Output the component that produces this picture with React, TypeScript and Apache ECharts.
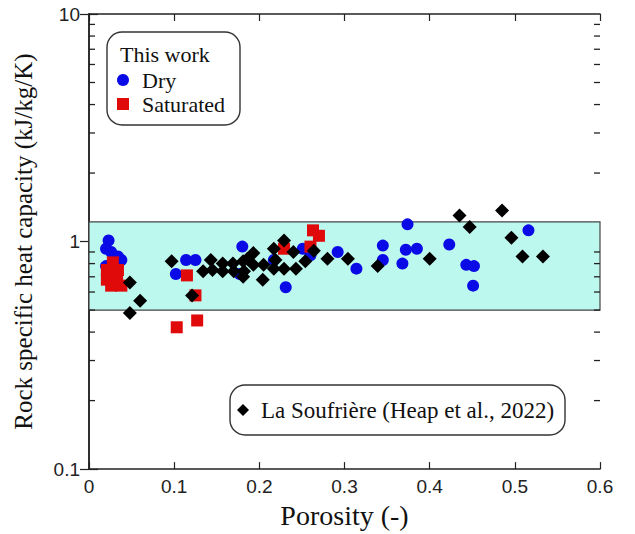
import React, { useEffect, useRef } from "react";
import * as echarts from "echarts";

// ---- Data ----
const dryPorosity = [0.023, 0.020, 0.026, 0.034, 0.038, 0.020, 0.114, 0.125, 0.102, 0.177, 0.180, 0.231, 0.217, 0.251, 0.260, 0.292, 0.314, 0.345, 0.345, 0.374, 0.372, 0.385, 0.368, 0.423, 0.443, 0.452, 0.451, 0.516];
const dryCp = [1.01, 0.93, 0.90, 0.86, 0.83, 0.78, 0.83, 0.83, 0.72, 0.72, 0.95, 0.63, 0.83, 0.93, 0.87, 0.90, 0.76, 0.96, 0.83, 1.19, 0.92, 0.93, 0.80, 0.97, 0.79, 0.78, 0.64, 1.12];

const satPorosity = [0.028, 0.021, 0.034, 0.021, 0.033, 0.026, 0.038, 0.115, 0.125, 0.103, 0.127, 0.229, 0.263, 0.270, 0.260];
const satCp = [0.81, 0.75, 0.75, 0.68, 0.67, 0.64, 0.64, 0.71, 0.58, 0.42, 0.45, 0.93, 1.12, 1.06, 0.95];

const soufrierePorosity = [0.048, 0.060, 0.048, 0.097, 0.121, 0.134, 0.143, 0.145, 0.157, 0.157, 0.169, 0.170, 0.181, 0.182, 0.186, 0.181, 0.193, 0.193, 0.205, 0.204, 0.217, 0.219, 0.217, 0.229, 0.229, 0.240, 0.243, 0.254, 0.264, 0.280, 0.304, 0.339, 0.400, 0.435, 0.447, 0.485, 0.496, 0.509, 0.533];
const soufriereCp = [0.66, 0.55, 0.485, 0.82, 0.58, 0.74, 0.83, 0.75, 0.80, 0.74, 0.80, 0.74, 0.82, 0.74, 0.84, 0.70, 0.89, 0.79, 0.79, 0.68, 0.93, 0.83, 0.76, 1.01, 0.76, 0.90, 0.76, 0.82, 0.91, 0.84, 0.84, 0.78, 0.84, 1.30, 1.16, 1.37, 1.04, 0.86, 0.86];

const bandRange = [0.5, 1.22];
const xTicks = [0, 0.1, 0.2, 0.3, 0.4, 0.5, 0.6];
const yMinorTicks = [0.2, 0.3, 0.4, 0.5, 0.6, 0.7, 0.8, 0.9, 2, 3, 4, 5, 6, 7, 8, 9];

const SERIF = "'Liberation Serif', 'Times New Roman', serif";
const SANS = "'Liberation Sans', Arial, sans-serif";

const zip = (a: number[], b: number[]) => a.map((v, i) => [v, b[i]]);

export default function App() {
  const ref = useRef<HTMLDivElement>(null);
  useEffect(() => {
    if (!ref.current) return;
    const chart = echarts.init(ref.current, null, { renderer: "svg" });
    const axisColor = "#222";
    const xMin = xTicks[0];
    const xMax = xTicks[xTicks.length - 1];
    const option: any = {
      animation: false,
      backgroundColor: "#fff",
      grid: { left: 89, right: 35, top: 14, bottom: 55 },
      xAxis: [
        {
          type: "value", min: xMin, max: xMax, interval: 0.1, position: "bottom",
          axisLine: { show: true, lineStyle: { color: axisColor, width: 1.5 } },
          axisTick: { show: true, inside: true, length: 7, lineStyle: { color: axisColor, width: 1.2 } },
          axisLabel: { color: "#222", fontFamily: SANS, fontSize: 19, margin: 8, formatter: (v: number) => String(+v.toFixed(1)) },
          splitLine: { show: false },
          name: "Porosity (-)", nameLocation: "middle", nameGap: 30,
          nameTextStyle: { fontFamily: SERIF, fontSize: 28, color: "#111" },
        },
        {
          type: "value", min: xMin, max: xMax, interval: 0.1, position: "top",
          axisLine: { show: true, lineStyle: { color: axisColor, width: 1.5 } },
          axisTick: { show: true, inside: true, length: 7, lineStyle: { color: axisColor, width: 1.2 } },
          axisLabel: { show: false }, splitLine: { show: false },
        },
      ],
      yAxis: [
        {
          type: "log", logBase: 10, min: 0.1, max: 10, position: "left",
          axisLine: { show: true, lineStyle: { color: axisColor, width: 1.5 } },
          axisTick: { show: true, inside: true, length: 9, lineStyle: { color: axisColor, width: 1.2 } },
          axisLabel: { color: "#222", fontFamily: SANS, fontSize: 19, margin: 9, formatter: (v: number) => String(+v.toPrecision(3)) },
          splitLine: { show: false },
          name: "Rock specific heat capacity (kJ/kg/K)", nameLocation: "middle", nameGap: 53,
          nameTextStyle: { fontFamily: SERIF, fontSize: 25, color: "#111" },
        },
        {
          type: "log", logBase: 10, min: 0.1, max: 10, position: "right",
          axisLine: { show: true, lineStyle: { color: axisColor, width: 1.5 } },
          axisTick: { show: true, inside: true, length: 9, lineStyle: { color: axisColor, width: 1.2 } },
          axisLabel: { show: false }, splitLine: { show: false },
        },
      ],
      series: [
        {
          type: "scatter", name: "band", data: [], z: 1, silent: true,
          markArea: {
            silent: true,
            itemStyle: { color: "#bdf8ee", borderColor: "#444", borderWidth: 1.2, opacity: 1 },
            data: [[{ xAxis: xMin, yAxis: bandRange[0] }, { xAxis: xMax, yAxis: bandRange[1] }]],
          },
        },
        {
          type: "custom", name: "minorTicks", z: 6, silent: true, clip: false,
          data: yMinorTicks.map((v) => [xMin, v]),
          renderItem: (params: any, api: any) => {
            const v = api.value(1);
            const l = api.coord([xMin, v]);
            const r = api.coord([xMax, v]);
            const st = { stroke: axisColor, lineWidth: 1.3 };
            return {
              type: "group",
              children: [
                { type: "line", shape: { x1: l[0], y1: l[1], x2: l[0] + 6, y2: l[1] }, style: st },
                { type: "line", shape: { x1: r[0], y1: r[1], x2: r[0] - 6, y2: r[1] }, style: st },
              ],
            };
          },
        },
        {
          type: "scatter", name: "Dry", z: 3, symbol: "circle", symbolSize: 12,
          itemStyle: { color: "#0a0ae6", opacity: 1 }, data: zip(dryPorosity, dryCp),
        },
        {
          type: "scatter", name: "Saturated", z: 4, symbol: "rect", symbolSize: 12,
          itemStyle: { color: "#e00a0a", opacity: 1 }, data: zip(satPorosity, satCp),
        },
        {
          type: "scatter", name: "La Soufrière (Heap et al., 2022)", z: 5, symbol: "diamond", symbolSize: 14,
          itemStyle: { color: "#000", opacity: 1 }, data: zip(soufrierePorosity, soufriereCp),
        },
      ],
      graphic: [
        {
          type: "group", left: 0, top: 0, bounding: "raw",
          children: [
            { type: "rect", shape: { x: 107, y: 32, width: 133, height: 93, r: 15 }, style: { fill: "#fff", stroke: "#333", lineWidth: 1.4 } },
            { type: "text", x: 120, y: 54, style: { text: "This work", font: `22px ${SERIF}`, fill: "#111", verticalAlign: "middle" } },
            { type: "circle", shape: { cx: 123, cy: 80, r: 6 }, style: { fill: "#0a0ae6" } },
            { type: "text", x: 142, y: 80, style: { text: "Dry", font: `22px ${SERIF}`, fill: "#111", verticalAlign: "middle" } },
            { type: "rect", shape: { x: 117, y: 98, width: 12, height: 12 }, style: { fill: "#e00a0a" } },
            { type: "text", x: 142, y: 104, style: { text: "Saturated", font: `22px ${SERIF}`, fill: "#111", verticalAlign: "middle" } },
            { type: "rect", shape: { x: 230, y: 385, width: 335, height: 50, r: 15 }, style: { fill: "#fff", stroke: "#333", lineWidth: 1.4 } },
            { type: "polygon", shape: { points: [[243, 404], [249, 410], [243, 416], [237, 410]] }, style: { fill: "#000" } },
            { type: "text", x: 261, y: 410, style: { text: "La Soufrière (Heap et al., 2022)", font: `23px ${SERIF}`, fill: "#111", verticalAlign: "middle" } },
          ],
        },
      ],
    };
    chart.setOption(option);
    return () => chart.dispose();
  }, []);
  return (
    <div
      ref={ref}
      style={{ position: "absolute", left: 0, top: 0, width: 635, height: 534, background: "#fff" }}
    />
  );
}
